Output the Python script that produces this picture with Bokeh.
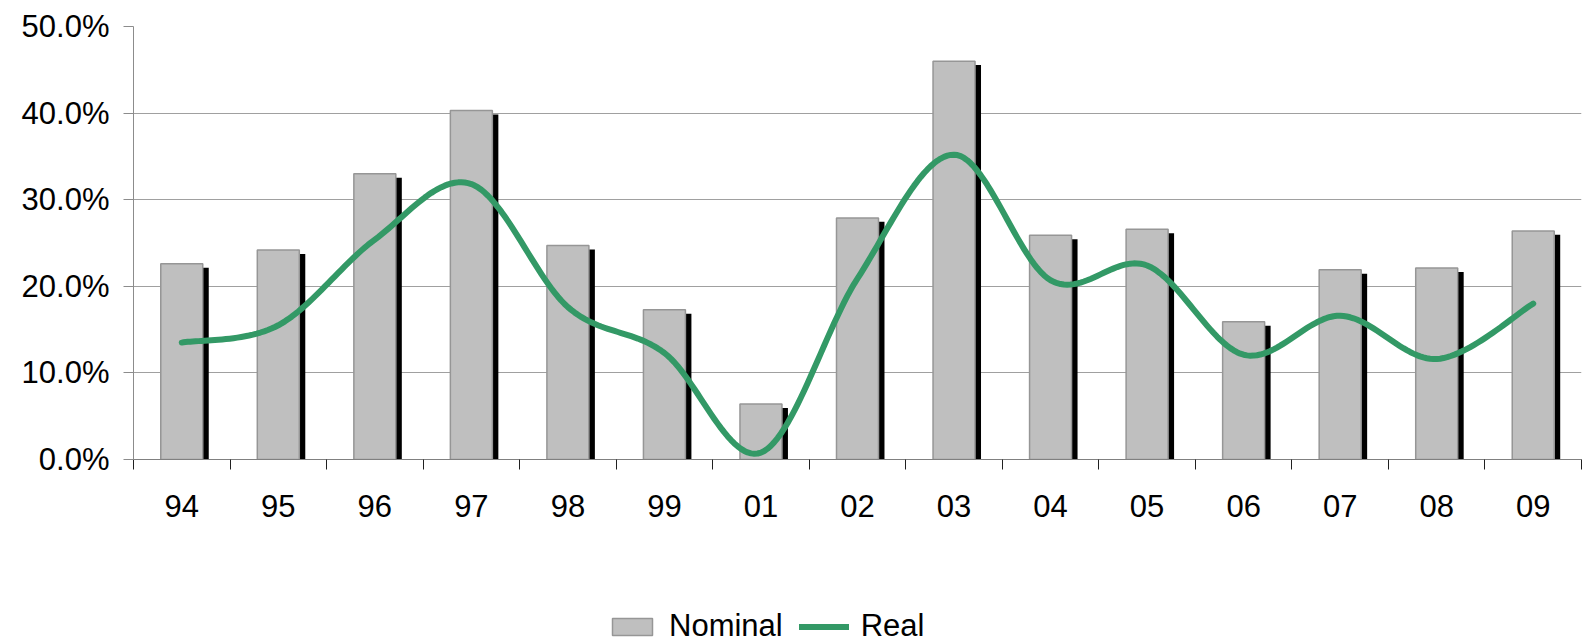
import numpy as np
from bokeh.plotting import figure
from bokeh.layouts import column
from bokeh.models import Range1d, FixedTicker, Legend, LegendItem, ColumnDataSource
from bokeh.transform import dodge
from bokeh.embed import file_html
from bokeh.resources import INLINE

# Annual returns, nominal vs. real (percent)
years = ["94", "95", "96", "97", "98", "99", "01", "02", "03", "04", "05", "06", "07", "08", "09"]
nominal = [22.6, 24.2, 33.0, 40.3, 24.7, 17.3, 6.4, 27.9, 46.0, 25.9, 26.6, 15.9, 21.9, 22.1, 26.4]
real = [13.5, 15.5, 25.4, 31.8, 17.6, 12.3, 0.8, 20.9, 35.2, 20.7, 22.4, 12.1, 16.6, 11.6, 18.0]
y_ticks = [0, 10, 20, 30, 40, 50]

FONT = "Liberation Sans"
FONT_SIZE = "31px"
BAR_FILL = "#bfbfbf"
BAR_EDGE = "#969696"
LINE_COLOR = "#339966"
BAR_W = 0.435
SHADOW_DX = 0.062   # shadow offset along x (category units)
SHADOW_DY = 0.46    # shadow drop (percent units)

W = 1583
H_MAIN = 600
H_LEGEND = 44

xs = np.arange(len(years)) + 0.5

src = ColumnDataSource(dict(
    x=xs,
    nominal=nominal,
    shadow=[v - SHADOW_DY for v in nominal],
))


# Smoothed line: cubic Bezier segments through the points (Catmull-Rom tangents)
def smooth(x, y, n=30):
    x = np.asarray(x, float)
    y = np.asarray(y, float)
    px = np.concatenate([[x[0]], x, [x[-1]]])
    py = np.concatenate([[y[0]], y, [y[-1]]])
    t = np.linspace(0, 1, n)
    out_x, out_y = [], []
    for i in range(len(x) - 1):
        x0, x1, x2, x3 = px[i], px[i + 1], px[i + 2], px[i + 3]
        y0, y1, y2, y3 = py[i], py[i + 1], py[i + 2], py[i + 3]
        bx1, by1 = x1 + (x2 - x0) / 6, y1 + (y2 - y0) / 6
        bx2, by2 = x2 - (x3 - x1) / 6, y2 - (y3 - y1) / 6
        a, b, c, d = (1 - t) ** 3, 3 * (1 - t) ** 2 * t, 3 * (1 - t) * t ** 2, t ** 3
        seg_x = a * x1 + b * bx1 + c * bx2 + d * x2
        seg_y = a * y1 + b * by1 + c * by2 + d * y2
        if i > 0:
            seg_x, seg_y = seg_x[1:], seg_y[1:]
        out_x.extend(seg_x)
        out_y.extend(seg_y)
    return out_x, out_y


cx, cy = smooth(xs, real)
curve = ColumnDataSource(dict(x=cx, y=cy))

p = figure(
    width=W, height=H_MAIN,
    x_range=Range1d(0, len(years)), y_range=Range1d(0, 50),
    output_backend="svg", toolbar_location=None,
    min_border_left=133, min_border_right=2, min_border_top=26,
    min_border_bottom=H_MAIN - 459,
)
p.outline_line_color = None
p.background_fill_color = "white"
p.border_fill_color = "white"

# Grid
p.xgrid.grid_line_color = None
p.ygrid.ticker = FixedTicker(ticks=y_ticks)
p.ygrid.grid_line_color = "#a0a0a0"
p.ygrid.grid_line_width = 1

# Bars with a drop shadow
p.vbar(x=dodge("x", SHADOW_DX), top="shadow", bottom=0, width=BAR_W, source=src,
       fill_color="black", line_color=None)
p.vbar(x="x", top="nominal", bottom=0, width=BAR_W, source=src,
       fill_color=BAR_FILL, line_color=BAR_EDGE, line_width=1.5)

p.line("x", "y", source=curve, line_color=LINE_COLOR, line_width=6,
       line_cap="round", line_join="round")

# Y axis
yax = p.yaxis[0]
yax.ticker = FixedTicker(ticks=y_ticks)
yax.major_label_overrides = {v: f"{v:.1f}%" for v in y_ticks}
yax.axis_line_color = "#8c8c8c"
yax.major_tick_line_color = "#8c8c8c"
yax.major_tick_out = 10
yax.major_tick_in = 0
yax.minor_tick_line_color = None
yax.major_label_text_font = FONT
yax.major_label_text_font_size = FONT_SIZE
yax.major_label_text_color = "black"
yax.major_label_standoff = 14

# X axis: labels centred on categories, tick marks at category boundaries
xax = p.xaxis[0]
xax.ticker = FixedTicker(ticks=list(xs), minor_ticks=list(range(len(years) + 1)))
xax.major_label_overrides = {float(x): lab for x, lab in zip(xs, years)}
xax.axis_line_color = "#808080"
xax.major_tick_line_color = None
xax.major_tick_out = 0
xax.major_tick_in = 0
xax.minor_tick_line_color = "#202020"
xax.minor_tick_out = 10
xax.minor_tick_in = 0
xax.major_label_text_font = FONT
xax.major_label_text_font_size = FONT_SIZE
xax.major_label_text_color = "black"
xax.major_label_standoff = 25

# Legend strip underneath the chart; the key renderers carry no drawable
# coordinates, they only supply the styling for the legend swatches
leg = figure(
    width=W, height=H_LEGEND,
    x_range=Range1d(0, 1), y_range=Range1d(0, 1),
    x_axis_location=None, y_axis_location=None,
    output_backend="svg", toolbar_location=None,
    min_border=0,
)
leg.outline_line_color = None
leg.xgrid.grid_line_color = None
leg.ygrid.grid_line_color = None
key_src = ColumnDataSource(dict(x=np.array([np.nan]), y=np.array([np.nan])))
bar_key = leg.vbar(x="x", top="y", bottom=0, width=BAR_W, source=key_src,
                   fill_color=BAR_FILL, line_color=BAR_EDGE, line_width=1.5)
line_key = leg.line("x", "y", source=key_src, line_color=LINE_COLOR, line_width=6,
                    line_cap="round")

legend = Legend(
    items=[LegendItem(label="Nominal", renderers=[bar_key], index=0),
           LegendItem(label="Real", renderers=[line_key], index=0)],
    orientation="horizontal",
    location=(474, 0),
    glyph_width=50, glyph_height=21,
    label_text_font=FONT, label_text_font_size=FONT_SIZE, label_text_color="black",
    label_standoff=12, spacing=16,
    padding=0, margin=0,
    border_line_color=None, background_fill_alpha=0,
)
leg.add_layout(legend, "center")

open("out.html", "w").write(file_html(column(p, leg, spacing=0), INLINE))
